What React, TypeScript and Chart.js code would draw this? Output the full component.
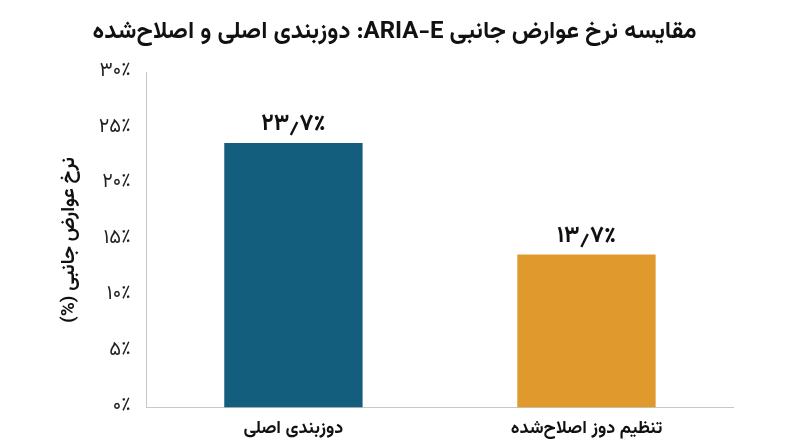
import React, { useEffect, useRef } from 'react';
import { Chart, registerables } from 'chart.js';

Chart.register(...registerables);

const categories = ['دوزبندی اصلی', 'تنظیم دوز اصلاح‌شده'];
const rates = [23.7, 13.7];
const barColors = ['#135e7c', '#e0992c'];
const yTicks = [0, 5, 10, 15, 20, 25, 30];

const FONT = 'Vazirmatn, "DejaVu Sans", sans-serif';

// convert latin digits to persian ones
const toFa = (s: string) =>
  s.replace(/[0-9]/g, d => '۰۱۲۳۴۵۶۷۸۹'[Number(d)]).replace('.', '٫');

const valueLabels = {
  id: 'valueLabels',
  afterDatasetsDraw(chart: any) {
    const { ctx } = chart;
    const meta = chart.getDatasetMeta(0);
    ctx.save();
    ctx.font = `bold 23px ${FONT}`;
    ctx.fillStyle = '#111';
    ctx.textAlign = 'center';
    ctx.textBaseline = 'bottom';
    meta.data.forEach((bar: any, i: number) => {
      ctx.fillText(toFa(rates[i].toFixed(1)) + '٪', bar.x, bar.y - 5);
    });
    ctx.restore();
  },
};

export default function App() {
  const canvasRef = useRef<HTMLCanvasElement>(null);

  useEffect(() => {
    document.body.style.margin = '0';
    if (!canvasRef.current) return;
    const chart = new Chart(canvasRef.current, {
      type: 'bar',
      data: {
        labels: categories,
        datasets: [
          {
            data: rates,
            backgroundColor: barColors,
            barPercentage: 0.59,
            categoryPercentage: 0.8,
          },
        ],
      },
      options: {
        responsive: true,
        maintainAspectRatio: false,
        animation: false,
        layout: { padding: { top: 20, right: 67, left: 56, bottom: 2 } },
        plugins: {
          legend: { display: false },
          tooltip: { enabled: false },
          title: {
            display: true,
            text: 'مقایسه نرخ عوارض جانبی ARIA-E: دوزبندی اصلی و اصلاح‌شده',
            color: '#111',
            font: { family: FONT, size: 24, weight: 'bold' },
            padding: { top: 0, bottom: 24 },
          },
        },
        scales: {
          x: {
            grid: { display: false },
            border: { color: '#c8c8c8' },
            ticks: {
              color: '#111',
              font: { family: FONT, size: 18, weight: 'bold' },
              padding: 4,
            },
          },
          y: {
            min: 0,
            max: 30,
            afterBuildTicks: (axis: any) => {
              axis.ticks = yTicks.map(v => ({ value: v }));
            },
            grid: { display: false },
            border: { color: '#c8c8c8' },
            ticks: {
              color: '#222',
              font: { family: FONT, size: 20 },
              padding: 8,
              callback: (v: any) => toFa(String(v)) + '٪',
            },
            title: {
              display: true,
              text: 'نرخ عوارض جانبی (%)',
              color: '#111',
              font: { family: FONT, size: 19, weight: 'bold' },
              padding: { bottom: 8 },
            },
          },
        },
      },
      plugins: [valueLabels],
    });
    return () => chart.destroy();
  }, []);

  return (
    <div style={{ position: 'relative', width: '800px', height: '447px', background: '#fff' }}>
      <canvas ref={canvasRef} dir="rtl" style={{ direction: 'rtl' }}></canvas>
    </div>
  );
}
